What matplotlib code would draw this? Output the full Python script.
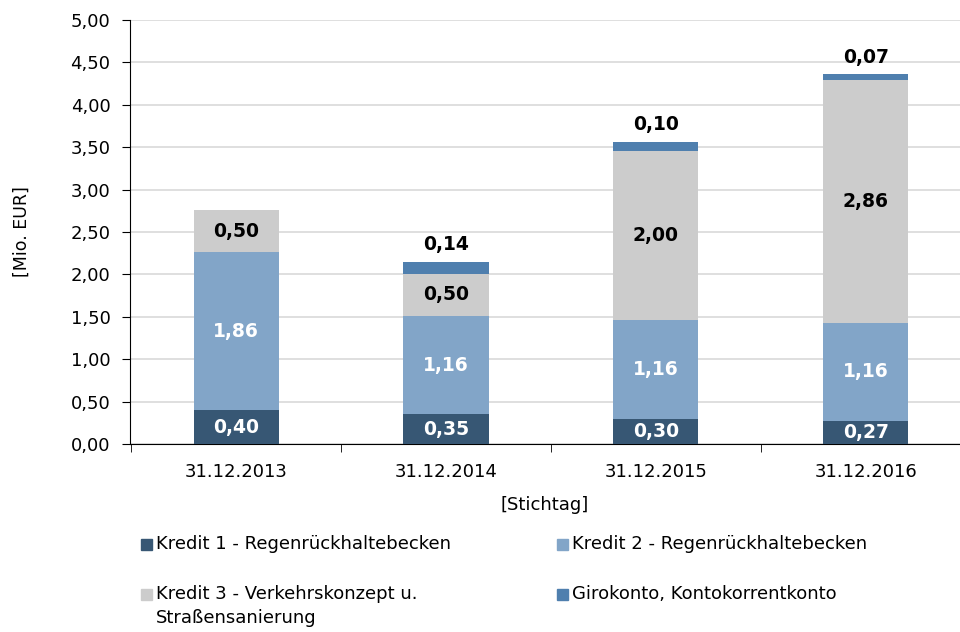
import matplotlib.pyplot as plt
from matplotlib.patches import Rectangle
from matplotlib.ticker import FixedLocator, FuncFormatter
import numpy as np

# Data
categories = ["31.12.2013", "31.12.2014", "31.12.2015", "31.12.2016"]
series_names = [
    "Kredit 1 - Regenrückhaltebecken",
    "Kredit 2 - Regenrückhaltebecken",
    "Kredit 3 - Verkehrskonzept u.\nStraßensanierung",
    "Girokonto, Kontokorrentkonto",
]
kredit1 = [0.40, 0.35, 0.30, 0.27]
kredit2 = [1.86, 1.16, 1.16, 1.16]
kredit3 = [0.50, 0.50, 2.00, 2.86]
giro = [0.00, 0.14, 0.10, 0.07]

colors = ["#375774", "#82a5c8", "#cccccc", "#4f7fae"]
label_colors = ["white", "white", "black", "black"]

plt.rcParams['font.family'] = ['DejaVu Sans']

fig = plt.figure(figsize=(9.6, 6.32), dpi=100)
ax = fig.add_axes([130 / 960, 1 - 444 / 632, 830 / 960, 424 / 632])

x = np.arange(len(categories))
width = 0.405
bottom = np.zeros(len(categories))
all_series = [kredit1, kredit2, kredit3, giro]

for s, (vals, col, lc) in enumerate(zip(all_series, colors, label_colors)):
    vals = np.array(vals)
    ax.bar(x, vals, width, bottom=bottom, color=col, edgecolor="none", zorder=3)
    for i, v in enumerate(vals):
        if v <= 0:
            continue
        txt = f"{v:.2f}".replace(".", ",")
        if s == 3:
            ax.text(x[i], bottom[i] + v + 0.09, txt, ha="center", va="bottom",
                    fontsize=13.5, fontweight="bold", color=lc, zorder=4)
        else:
            ax.text(x[i], bottom[i] + v / 2, txt, ha="center", va="center",
                    fontsize=13.5, fontweight="bold", color=lc, zorder=4)
    bottom = bottom + vals

# Axes styling
ax.set_ylim(0, 5)
ax.set_xlim(-0.505, 3.448)
ax.yaxis.set_major_locator(FixedLocator(np.arange(0, 5.01, 0.5)))
ax.yaxis.set_major_formatter(FuncFormatter(lambda v, p: f"{v:.2f}".replace(".", ",")))
ax.grid(axis="y", color="#d9d9d9", linewidth=1.2, zorder=0)
ax.set_axisbelow(True)

for side in ["top", "right"]:
    ax.spines[side].set_visible(False)
ax.spines["left"].set_color("black")
ax.spines["bottom"].set_color("black")

ax.tick_params(axis="y", direction="out", length=6, labelsize=13, pad=8)
ax.set_xticks(x)
ax.set_xticklabels(categories, fontsize=13)
ax.tick_params(axis="x", which="major", length=0, pad=14)
ax.set_xticks([-0.5, 0.5, 1.5, 2.5], minor=True)
ax.tick_params(axis="x", which="minor", direction="out", length=6)

ax.set_ylabel("[Mio. EUR]", fontsize=12.5)
ax.yaxis.set_label_coords(-0.13, 0.5)
ax.yaxis.label.set_va("center")
ax.set_xlabel("[Stichtag]", fontsize=13)
ax.xaxis.set_label_coords(0.5, -0.144)
ax.xaxis.label.set_va("center")

# Legend (manual, two columns)
leg_pos = [(141, 545), (557, 545), (141, 595), (557, 595)]
for name, col, (px, py) in zip(series_names, colors, leg_pos):
    fig.patches.append(Rectangle((px / 960, 1 - (py + 5) / 632), 11 / 960, 11 / 632,
                                 transform=fig.transFigure, color=col))
    fig.text((px + 15) / 960, 1 - (py - 10) / 632, name, fontsize=13,
             ha="left", va="top", linespacing=1.4)

fig.savefig("out.png", dpi=100)
